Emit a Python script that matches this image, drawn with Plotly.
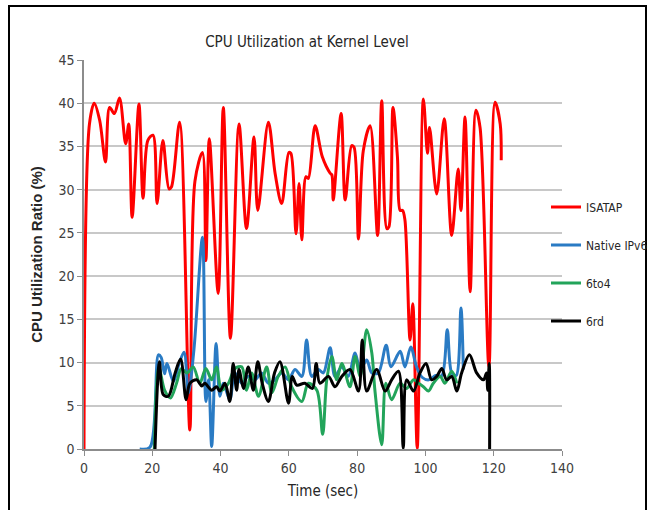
import plotly.graph_objects as go

# ---- data ----
isatap_t = [0, 1.6, 3.0, 4.6, 6.3, 7.5, 8.9, 10.4, 12.2, 13.1, 14.1, 16.1, 17.3, 18.7, 20.2, 21.4,
            23.1, 24.9, 25.6, 28.0, 31.0, 32.5, 34.7, 35.7, 36.7, 39.3, 40.8, 42.9, 45.4, 47.6,
            49.8, 50.9, 54.0, 56.0, 57.9, 60.0, 60.6, 62.1, 63.0, 63.8, 65.0, 65.7, 67.7, 69.8,
            72.1, 72.6, 73.0, 75.3, 76.5, 78.4, 79.1, 80.4, 81.8, 83.8, 86.0, 87.2, 88.7, 89.3,
            90.5, 91.8, 92.6, 93.3, 94.0, 95.5, 96.3, 97.6, 99.4, 100.6, 101.2, 103.3, 105.5,
            107.7, 109.6, 110.4, 111.6, 113.1, 114.8, 116.0, 118.6, 120.4, 121.9, 122.2]
isatap_v = [0, 37.6, 40.0, 38.0, 33.2, 39.5, 38.8, 40.6, 35.3, 37.6, 26.8, 39.9, 29.0, 35.7, 36.3, 28.4,
            35.7, 30.1, 30.3, 37.8, 2.2, 31.0, 34.3, 21.8, 35.9, 18.0, 39.5, 12.8, 37.6, 25.5,
            36.1, 27.6, 37.8, 31.8, 28.4, 34.3, 34.2, 24.9, 30.7, 24.2, 31.5, 31.3, 37.4, 33.8,
            31.9, 31.7, 28.8, 38.8, 28.8, 35.1, 34.9, 24.3, 34.5, 37.4, 24.7, 40.3, 25.5, 25.7,
            39.5, 33.8, 27.6, 27.6, 26.5, 12.6, 16.8, 0.1, 40.5, 34.2, 37.2, 29.5, 38.2,
            24.7, 32.4, 27.6, 38.4, 18.2, 39.2, 37.2, 9.5, 40.1, 37.6, 33.4]

native_t = [16.3, 19.3, 21.8, 22.6, 23.6, 24.3, 26.2, 27.8, 29.3, 30.6, 32.2, 34.7, 35.7, 36.5,
            37.4, 38.7, 39.8, 40.8, 42.7, 44.2, 46.2, 48.1, 50.1, 52.0, 54.0, 55.9, 57.9, 59.9,
            61.8, 63.8, 65.2, 66.7, 68.6, 70.1, 72.1, 73.5, 75.5, 77.4, 79.4, 80.9, 82.8, 84.3,
            86.2, 88.5, 89.9, 92.6, 94.0, 95.7, 97.4, 99.0, 101.0, 103.0, 104.8, 106.4, 107.7,
            109.0, 110.4, 111.1]
native_v = [0.0, 0.2, 10.9, 10.6, 8.7, 9.9, 7.8, 9.8, 11.2, 6.5, 11.5, 24.5, 5.5, 8.0,
            0.3, 12.2, 6.1, 7.6, 5.7, 8.8, 7.6, 8.4, 8.0, 8.8, 7.6, 8.0, 8.8, 8.0,
            9.2, 8.4, 12.6, 8.4, 9.2, 8.8, 11.7, 8.4, 9.5, 8.4, 11.1, 9.2, 10.3, 8.8,
            8.8, 12.0, 9.5, 11.3, 9.5, 11.8, 9.5, 8.3, 8.0, 8.5, 8.5, 13.8, 8.8,
            8.5, 16.3, 9.2]

sixto4_t = [20.6, 21.9, 23.6, 25.3, 27.1, 28.5, 30.2, 32.0, 33.9, 35.7, 37.4, 38.8, 40.3, 42.3,
            44.2, 46.2, 47.6, 49.1, 51.1, 53.5, 55.0, 56.9, 58.9, 60.8, 63.8, 65.7, 68.2, 69.9,
            71.1, 72.6, 74.0, 75.5, 77.9, 79.4, 80.9, 82.8, 84.3, 85.2, 87.2, 88.4, 90.1, 92.6,
            94.5, 96.5, 98.0, 99.4, 100.9, 102.3, 104.3, 105.7, 107.7, 109.2]
sixto4_v = [0.0, 9.5, 6.8, 5.9, 7.6, 9.3, 8.8, 9.5, 7.6, 9.3, 8.0, 9.5, 6.8, 7.6,
            9.3, 9.5, 6.8, 8.8, 6.1, 9.5, 6.5, 8.4, 9.5, 7.2, 5.5, 7.6, 6.8, 1.7,
            8.0, 10.7, 8.0, 9.9, 7.2, 10.7, 8.4, 13.8, 11.1, 6.8, 0.5, 7.6, 5.7, 7.6,
            7.0, 8.0, 7.6, 7.2, 6.7, 7.6, 8.4, 7.6, 9.0, 7.6]

sixrd_t = [20.8, 22.1, 23.2, 24.7, 26.7, 28.3, 29.9, 31.0, 33.0, 34.5, 35.4, 37.4, 38.8, 39.8,
           41.3, 42.7, 43.7, 44.7, 45.4, 46.7, 48.1, 49.6, 50.9, 52.2, 54.0, 55.8, 57.4, 59.9,
           61.0, 62.3, 64.7, 66.9, 68.0, 69.1, 71.6, 73.5, 75.5, 77.9, 80.4, 81.5, 82.8, 85.7,
           88.2, 90.1, 92.1, 93.5, 94.5, 96.5, 98.4, 100.2, 101.8, 103.3, 104.8, 106.2, 107.7,
           109.2, 110.6, 112.9, 115.0, 117.0, 117.9, 118.2, 118.7, 118.8]
sixrd_v = [0.0, 10.1, 6.3, 6.1, 8.8, 10.4, 5.7, 7.6, 8.0, 7.3, 7.6, 6.8, 7.2, 6.7,
           7.6, 5.5, 9.9, 6.8, 9.2, 7.0, 9.5, 6.8, 10.1, 7.6, 5.5, 8.8, 10.1, 5.3,
           8.4, 7.4, 7.6, 7.0, 9.9, 7.6, 8.4, 7.2, 8.4, 9.2, 6.7, 12.6, 6.7, 9.2,
           6.7, 8.0, 9.0, 0.1, 8.0, 6.7, 8.8, 9.9, 8.0, 8.4, 9.3, 8.0, 8.4,
           6.7, 8.8, 10.9, 8.8, 8.0, 8.8, 6.8, 9.9, 0.0]

series = [
    ("ISATAP", isatap_t, isatap_v, "#ff0000"),
    ("Native IPv6", native_t, native_v, "#2a7bc4"),
    ("6to4", sixto4_t, sixto4_v, "#22a45a"),
    ("6rd", sixrd_t, sixrd_v, "#000000"),
]

FONT = "Liberation Sans Narrow, DejaVu Sans Condensed, Arial Narrow, sans-serif"

fig = go.Figure()
for i, (name, t, v, c) in enumerate(series):
    fig.add_trace(go.Scatter(x=t, y=v, name=name, mode="lines",
                             line=dict(color=c, width=3, shape="spline", smoothing=0.9),
                             legendgroup=f"g{i}"))

W, H = 652, 510
L, R, T, B = 84, 90, 60, 61
pw, ph = W - L - R, H - T - B

def px2paper_x(px):
    return (px - L) / pw

def px2paper_y(py):
    return (H - B - py) / ph

fig.update_layout(
    width=W, height=H,
    margin=dict(l=L, r=R, t=T, b=B, autoexpand=False),
    paper_bgcolor="white", plot_bgcolor="white",
    font=dict(family=FONT, size=14, color="#404040"),
    title=dict(text="CPU Utilization at Kernel Level", x=px2paper_x(307), xref="paper",
               xanchor="center", y=1 - 42 / H, yanchor="middle",
               font=dict(family=FONT, size=15, color="#262626")),
    showlegend=True,
    legend=dict(x=px2paper_x(546), xanchor="left", y=px2paper_y(264), yanchor="middle",
                traceorder="grouped", tracegroupgap=19,
                font=dict(family=FONT, size=12, color="#262626"),
                bgcolor="rgba(0,0,0,0)", itemwidth=30),
    xaxis=dict(range=[0, 140], dtick=20, tick0=0, showgrid=False, zeroline=False,
               showline=True, linecolor="#8c8c8c", linewidth=1.5,
               ticks="outside", ticklen=5, tickcolor="#8c8c8c",
               tickfont=dict(family=FONT, size=14, color="#404040"),
               title=dict(text="Time (sec)", standoff=11,
                          font=dict(family=FONT, size=15, color="#262626"))),
    yaxis=dict(range=[0, 45], dtick=5, tick0=0, showgrid=True, gridcolor="#c8c8c8", gridwidth=2,
               zeroline=False, showline=True, linecolor="#8c8c8c", linewidth=1.5,
               ticks="outside", ticklen=5, tickcolor="#8c8c8c",
               tickfont=dict(family=FONT, size=14, color="#404040"),
               title=dict(text="<b>CPU Utilization Ratio (%)</b>", standoff=12,
                          font=dict(family="Liberation Sans, Arial, sans-serif", size=15,
                                    color="#262626"))),
    shapes=[dict(type="rect", xref="paper", yref="paper",
                 x0=px2paper_x(9), x1=px2paper_x(646), y0=px2paper_y(513), y1=px2paper_y(6),
                 line=dict(color="black", width=2), fillcolor="rgba(0,0,0,0)", layer="above")],
)

fig.write_html("out.html")
